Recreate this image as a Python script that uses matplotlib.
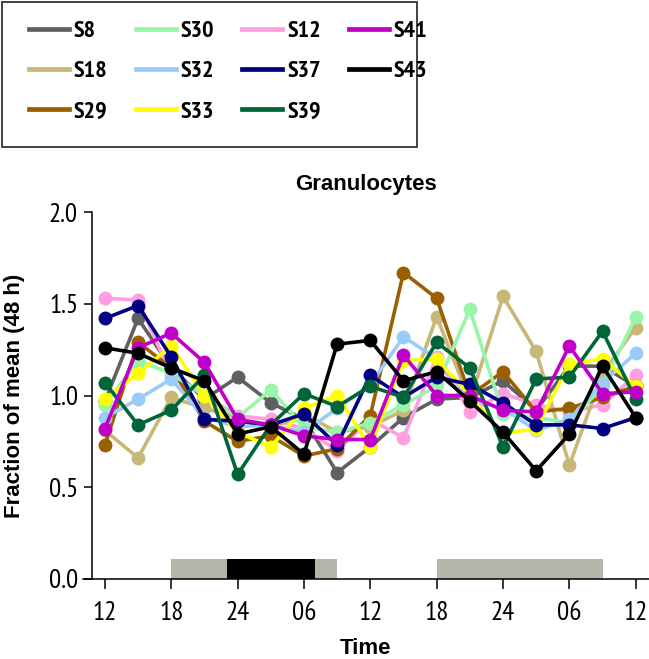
import matplotlib
matplotlib.use("Agg")
import matplotlib.pyplot as plt
from matplotlib.patches import Rectangle
from matplotlib.lines import Line2D

hours = list(range(0, 49, 3))
tick_hours = [0, 6, 12, 18, 24, 30, 36, 42, 48]
tick_labels = ["12", "18", "24", "06", "12", "18", "24", "06", "12"]

S8  = [0.97, 1.42, 1.15, 0.98, 1.10, 0.96, 0.87, 0.58, 0.72, 0.88, 0.98, 0.99, 1.08, 0.92, 1.16, 1.16, 1.05]
S12 = [1.53, 1.52, 1.11, 1.00, 0.89, 0.87, 0.82, 0.70, 0.87, 0.77, 1.21, 0.91, 1.01, 0.95, 0.91, 0.95, 1.11]
S18 = [0.81, 0.66, 0.99, 0.93, 0.88, 0.82, 0.90, 0.80, 0.83, 0.92, 1.43, 0.97, 1.54, 1.24, 0.62, 1.12, 1.37]
S29 = [0.73, 1.29, 1.15, 0.86, 0.75, 0.78, 0.67, 0.71, 0.89, 1.67, 1.53, 1.00, 1.13, 0.91, 0.93, 0.99, 1.05]
S30 = [0.95, 1.19, 1.12, 1.00, 0.88, 1.03, 0.83, 0.80, 0.85, 0.95, 1.05, 1.47, 0.90, 0.88, 0.85, 1.05, 1.43]
S32 = [0.88, 0.98, 1.09, 0.88, 0.83, 0.84, 0.80, 0.93, 1.06, 1.32, 1.20, 0.98, 0.93, 0.81, 0.87, 1.07, 1.23]
S33 = [0.98, 1.12, 1.27, 1.00, 0.80, 0.72, 0.93, 1.00, 0.72, 1.19, 1.20, 1.00, 0.79, 0.82, 1.17, 1.20, 1.05]
S37 = [1.42, 1.49, 1.21, 0.87, 0.86, 0.84, 0.90, 0.73, 1.11, 0.99, 1.10, 1.06, 0.96, 0.84, 0.84, 0.82, 0.88]
S39 = [1.07, 0.84, 0.92, 1.11, 0.57, 0.84, 1.01, 0.94, 1.05, 0.99, 1.29, 1.15, 0.72, 1.09, 1.10, 1.35, 0.98]
S41 = [0.82, 1.26, 1.34, 1.18, 0.87, 0.84, 0.78, 0.76, 0.76, 1.22, 1.00, 1.00, 0.92, 0.91, 1.27, 1.01, 1.02]
S43 = [1.26, 1.23, 1.15, 1.08, 0.79, 0.83, 0.68, 1.28, 1.30, 1.08, 1.13, 0.97, 0.80, 0.59, 0.79, 1.16, 0.88]

series = {"S8": S8, "S12": S12, "S18": S18, "S29": S29, "S30": S30, "S32": S32,
          "S33": S33, "S37": S37, "S39": S39, "S41": S41, "S43": S43}
colors = {"S8": "#606060", "S30": "#99f5a8", "S12": "#ff9ee0", "S41": "#c000c8",
          "S18": "#c8b878", "S32": "#99ccf8", "S37": "#000080", "S43": "#000000",
          "S29": "#9a6000", "S33": "#ffff00", "S39": "#00663a"}
legend_order = ["S8", "S18", "S29", "S30", "S32", "S33", "S12", "S37", "S39", "S41", "S43"]

# light/dark bars (hours from start)
light_bars = [(6, 21), (30, 45)]
dark_bars = [(11, 19)]

NARROW = ["PT Sans Narrow", "Liberation Sans", "DejaVu Sans"]
BOLD = ["Liberation Sans", "DejaVu Sans"]

W, H = 649, 659
fig = plt.figure(figsize=(W / 100, H / 100), dpi=100)
ax = fig.add_axes([83 / W, 1 - 579 / H, (649 - 83) / W, (579 - 212) / H])

for name, vals in series.items():
    ax.plot(hours, vals, color=colors[name], lw=2.6, marker="o", ms=10,
            markeredgewidth=0, solid_capstyle="round", clip_on=False)

for (a, b) in light_bars:
    ax.add_patch(Rectangle((a, 0), b - a, 0.11, facecolor="#b5b5aa", edgecolor="none", zorder=0.5))
for (a, b) in dark_bars:
    ax.add_patch(Rectangle((a, 0), b - a, 0.11, facecolor="#000000", edgecolor="none", zorder=0.6))

ax.set_xlim(-1.98, 49.2)
ax.set_ylim(0, 2.0)
ax.spines["top"].set_visible(False)
ax.spines["right"].set_visible(False)
ax.spines["left"].set_position(("data", -1.17))
ax.spines["left"].set_linewidth(1.1)
ax.spines["bottom"].set_linewidth(1.1)
ax.set_xticks(tick_hours)
ax.set_xticklabels(tick_labels)
ax.set_yticks([0, 0.5, 1.0, 1.5, 2.0])
ax.set_yticklabels(["0.0", "0.5", "1.0", "1.5", "2.0"])
ax.tick_params(axis="x", length=7.5, width=1.1, pad=8, labelsize=19.5)
ax.tick_params(axis="y", length=6, width=1.1, pad=4, labelsize=19.5)
for lab in ax.get_xticklabels() + ax.get_yticklabels():
    lab.set_family(NARROW)

ax.set_title("Granulocytes", fontsize=16, fontweight="bold", family=BOLD, pad=16)
ax.set_xlabel("Time", fontsize=16, fontweight="bold", family=BOLD, labelpad=10)
ax.set_ylabel("Fraction of mean (48 h)", fontsize=16, fontweight="bold", family=BOLD, labelpad=17)

handles = [Line2D([], [], color=colors[n], lw=3.4) for n in legend_order]
fig.patches.append(Rectangle((2 / W, 1 - 147 / H), 415 / W, 145 / H, transform=fig.transFigure,
                             fill=False, edgecolor="#333333", lw=1.3))
fig.legend(handles, legend_order, ncol=4, frameon=False, loc="upper left",
           bbox_to_anchor=(12 / W, 1 - 3 / H),
           prop={"family": NARROW, "weight": "bold", "size": 17.5},
           handlelength=1.65, handletextpad=0.2, columnspacing=1.15, labelspacing=0.75,
           borderpad=0.2)

fig.savefig("out.png", dpi=100)
